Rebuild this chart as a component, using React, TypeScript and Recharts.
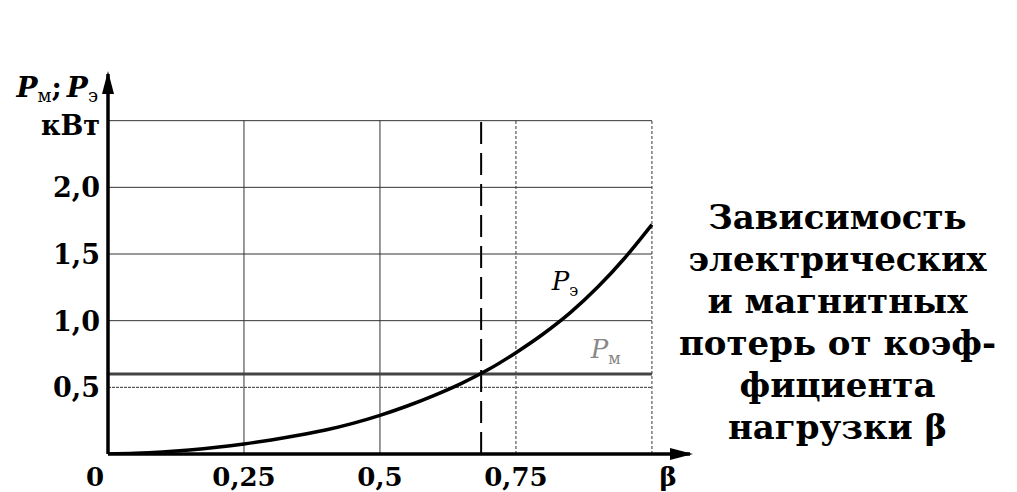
import React from "react";
import { LineChart, Line, XAxis, YAxis, ReferenceLine, ReferenceDot } from "recharts";

const beta = [0, 0.05, 0.1, 0.15, 0.2, 0.25, 0.3, 0.35, 0.4, 0.45, 0.5, 0.55, 0.6, 0.65, 0.7, 0.75, 0.8, 0.85, 0.9, 0.95, 1.0];
const pe = [0, 0.005, 0.015, 0.03, 0.05, 0.075, 0.105, 0.14, 0.18, 0.23, 0.29, 0.36, 0.44, 0.53, 0.635, 0.76, 0.9, 1.06, 1.25, 1.47, 1.72];
const pm = 0.6;
const betaOpt = 0.686;

const xTicks = [0, 0.25, 0.5, 0.75, 1.03];
const xTickLabels = ["0", "0,25", "0,5", "0,75", "β"];
const yTicks = [0.5, 1, 1.5, 2, 2.5, 2.78];
const yTickLabels = ["0,5", "1,0", "1,5", "2,0", "кВт", "P"];
const xGrid = [0.25, 0.5, 0.75, 1];
const yGrid = [0.5, 1, 1.5, 2, 2.5];
const xMax = 1.07;
const yMax = 2.85;
const gridTop = 2.5;
const gridRight = 1;

const peLabelPos = { x: 0.84, y: 1.29 };
const pmLabelPos = { x: 0.915, y: 0.78 };

const titleLines = [
  "Зависимость",
  "электрических",
  "и магнитных",
  "потерь от коэф-",
  "фициента",
  "нагрузки β",
];

const data = beta.map((b, i) => ({ beta: b, pe: pe[i] }));

const FONT = "'DejaVu Serif', serif";

const XTick = (props: any) => {
  const { x, y, payload } = props;
  const i = xTicks.indexOf(payload.value);
  const label = xTickLabels[i] ?? "";
  const dx = payload.value === 0 ? -13 : 0;
  return (
    <text x={x + dx} y={y + 32} textAnchor="middle" fontFamily={FONT} fontWeight="bold" fontSize={26} fill="#000">
      {label}
    </text>
  );
};

const YTick = (props: any) => {
  const { x, y, payload } = props;
  const i = yTicks.indexOf(payload.value);
  if (i === yTicks.length - 1) {
    return (
      <text x={x - 2} y={y + 14} textAnchor="end" fontFamily={FONT} fontSize={28} fill="#000">
        <tspan fontStyle="italic" fontWeight="bold">P</tspan>
        <tspan fontSize={18} dy={5}>м</tspan>
        <tspan dy={-5} fontWeight="bold">;</tspan>
        <tspan dx={5} fontStyle="italic" fontWeight="bold">P</tspan>
        <tspan fontSize={18} dy={5}>э</tspan>
      </text>
    );
  }
  return (
    <text x={x} y={y} dy={i === yTicks.length - 2 ? 14 : 10} textAnchor="end" fontFamily={FONT} fontWeight="bold" fontSize={27} fill="#000">
      {yTickLabels[i]}
    </text>
  );
};

const ArrowRight = (props: any) => {
  const { cx, cy } = props;
  return <path d={`M${cx + 3},${cy} L${cx - 20},${cy - 6} L${cx - 20},${cy + 6} Z`} fill="#000" />;
};

const ArrowUp = (props: any) => {
  const { cx, cy } = props;
  return <path d={`M${cx},${cy - 3} L${cx - 6},${cy + 20} L${cx + 6},${cy + 20} Z`} fill="#000" />;
};

const PLabel = (sub: string, color: string) => (props: any) => {
  const { cx, cy } = props;
  return (
    <text x={cx} y={cy + 8} textAnchor="middle" fontFamily={FONT} fontSize={26} fill={color}>
      <tspan fontStyle="italic">P</tspan>
      <tspan fontSize={16} dy={6}>{sub}</tspan>
    </text>
  );
};

export default function App() {
  return (
    <div style={{ position: "absolute", left: 0, top: 0, width: 1017, height: 492, background: "#fff" }}>
      <LineChart width={1017} height={492} data={data} margin={{ top: 74, right: 327, bottom: 0, left: 0 }}>
        <XAxis
          dataKey="beta"
          type="number"
          domain={[0, xMax]}
          ticks={xTicks}
          tick={<XTick />}
          tickLine={false}
          tickSize={0}
          tickMargin={0}
          height={38}
          axisLine={{ stroke: "#000", strokeWidth: 3.5 }}
          allowDataOverflow
          interval={0}
        />
        <YAxis
          type="number"
          domain={[0, yMax]}
          ticks={yTicks}
          tick={<YTick />}
          tickLine={false}
          tickSize={0}
          tickMargin={8}
          width={108}
          axisLine={{ stroke: "#000", strokeWidth: 3.5 }}
          allowDataOverflow
          interval={0}
        />
        {yGrid.map((v) => (
          <ReferenceLine
            key={"h" + v}
            segment={[{ x: 0, y: v }, { x: gridRight, y: v }]}
            stroke="#333"
            strokeWidth={1}
            strokeDasharray={v === 0.5 ? "3 1" : undefined}
            ifOverflow="visible"
          />
        ))}
        {xGrid.map((v) => (
          <ReferenceLine
            key={"v" + v}
            segment={[{ x: v, y: 0 }, { x: v, y: gridTop }]}
            stroke="#333"
            strokeWidth={1}
            strokeDasharray={v >= 0.75 ? "3 2" : undefined}
            ifOverflow="visible"
          />
        ))}
        <ReferenceLine
          segment={[{ x: betaOpt, y: 0 }, { x: betaOpt, y: gridTop }]}
          stroke="#000"
          strokeWidth={2}
          strokeDasharray="22 9"
          ifOverflow="visible"
        />
        <ReferenceLine
          segment={[{ x: 0, y: pm }, { x: gridRight, y: pm }]}
          stroke="#444"
          strokeWidth={3}
          ifOverflow="visible"
        />
        <Line
          dataKey="pe"
          type="monotone"
          stroke="#000"
          strokeWidth={3.5}
          dot={false}
          activeDot={false}
          isAnimationActive={false}
        />
        <ReferenceDot x={peLabelPos.x} y={peLabelPos.y} r={0} ifOverflow="visible" shape={PLabel("э", "#000")} />
        <ReferenceDot x={pmLabelPos.x} y={pmLabelPos.y} r={0} ifOverflow="visible" shape={PLabel("м", "#888")} />
        <ReferenceDot x={xMax} y={0} r={0} ifOverflow="visible" shape={<ArrowRight />} />
        <ReferenceDot x={0} y={yMax} r={0} ifOverflow="visible" shape={<ArrowUp />} />
      </LineChart>
      <div
        style={{
          position: "absolute",
          left: 660,
          top: 196,
          width: 355,
          textAlign: "center",
          fontFamily: FONT,
          fontWeight: "bold",
          fontSize: 34,
          lineHeight: "42px",
          color: "#000",
        }}
      >
        {titleLines.map((l) => (
          <div key={l}>{l}</div>
        ))}
      </div>
    </div>
  );
}
